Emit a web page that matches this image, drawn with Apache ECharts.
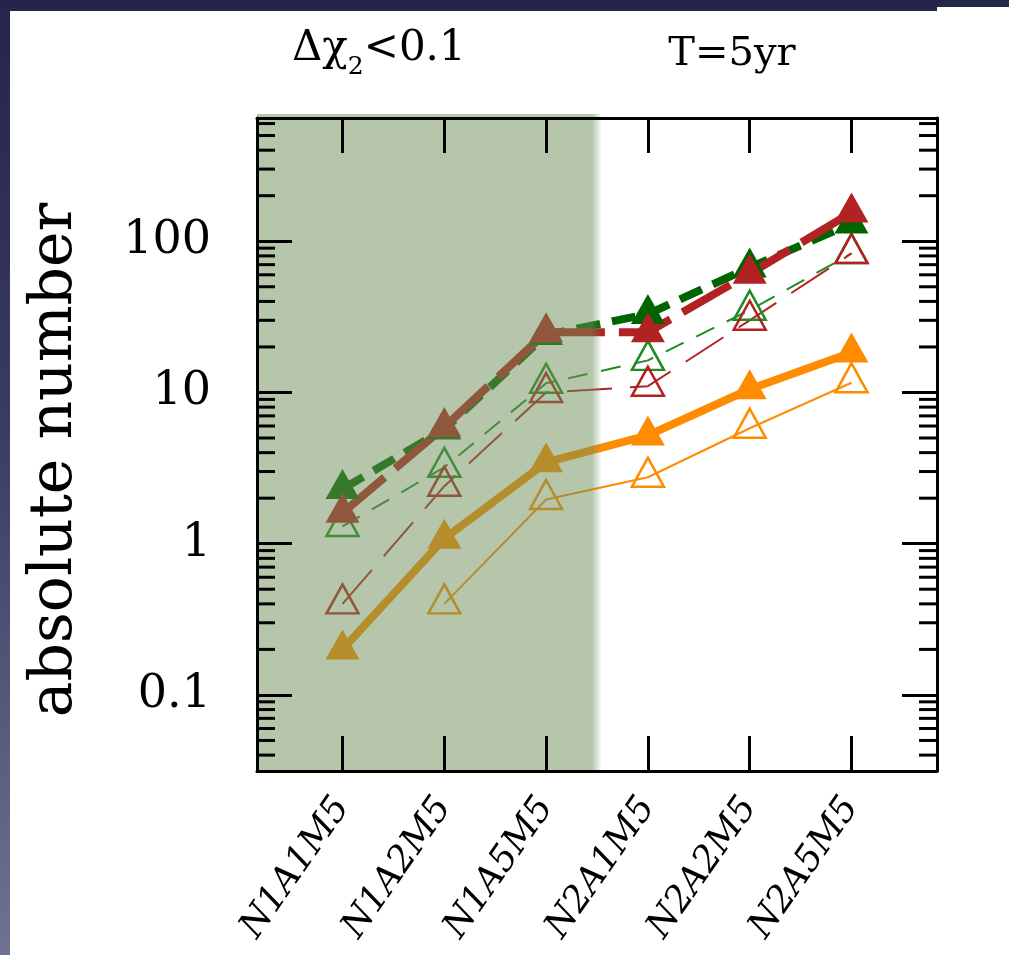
<!DOCTYPE html>
<html>
<head>
<meta charset="utf-8">
<script src="https://cdn.jsdelivr.net/npm/echarts@6/dist/echarts.min.js"></script>
<style>
  html, body { margin: 0; padding: 0; width: 1009px; height: 955px; overflow: hidden;
    background: linear-gradient(to bottom, #25244a 0%, #3b3c62 45%, #6f7290 100%); }
  #panel { position: absolute; left: 10px; top: 11px; width: 999px; height: 944px; background: #fff; }
  #tab { position: absolute; left: 937px; top: 7px; width: 72px; height: 10px; background: #fff; }
  #chart { position: absolute; left: 0; top: 0; width: 1009px; height: 955px; }
</style>
</head>
<body>
<div id="panel"></div>
<div id="tab"></div>
<div id="chart"></div>
<script>
// Configurations along the x axis
const categories = ['N1A1M5', 'N1A2M5', 'N1A5M5', 'N2A1M5', 'N2A2M5', 'N2A5M5'];

// Absolute numbers per configuration
const greenFilled  = [2.3, 5.7, 24, 33, 67, 131];
const redFilled    = [1.6, 5.9, 25, 25, 61, 155];
const greenOpen    = [1.3, 3.2, 11.5, 16.3, 35, 83];
const redOpen      = [0.4, 2.4, 10, 11, 30, 83];
const orangeFilled = [0.2, 1.08, 3.45, 5.2, 10.5, 18.4];
const orangeOpen   = [null, 0.4, 1.96, 2.75, 5.8, 11.6];

// Log axis labels
const yTickValues = [0.1, 1, 10, 100];
const yTickLabels = ['0.1', '1', '10', '100'];

// Header texts
const rightHeader = 'T=5yr';
const yAxisTitle = 'absolute number';

const X_MIN = -0.84, X_MAX = 5.84;
const Y_MIN = 0.0314, Y_MAX = 653;
const SHADE_END = 2.5;   // shaded block covers the N1 configurations

const SERIF = '"DejaVu Serif", "Liberation Serif", serif';
const SHADE = 'rgba(108,142,86,0.5)';
const SHADE_CLEAR = 'rgba(108,142,86,0)';

// minor ticks 2..9 of every decade inside the axis range
const minorTicks = [];
for (let e = -2; e <= 2; e++) {
  for (let m = 2; m <= 9; m++) {
    const v = m * Math.pow(10, e);
    if (v > Y_MIN && v < Y_MAX) minorTicks.push(v);
  }
}

function toPairs(values) {
  return values.map((v, i) => [i, v]).filter(d => d[1] != null);
}

function lineSeries(values, color, width, dash, filled, z) {
  return {
    type: 'line',
    data: toPairs(values),
    xAxisIndex: 0, yAxisIndex: 0,
    symbol: 'triangle',
    symbolSize: filled ? [34, 30] : [32, 29],
    symbolOffset: [0, -5],
    showAllSymbol: true,
    lineStyle: { color: color, width: width, type: dash, cap: 'butt' },
    itemStyle: filled
      ? { color: color }
      : { color: 'rgba(0,0,0,0)', borderColor: color, borderWidth: 2.5 },
    z: z, silent: true, animation: false
  };
}

function yLabel(v) {
  const i = yTickValues.findIndex(t => Math.abs(Math.log10(v / t)) < 1e-6);
  return i >= 0 ? yTickLabels[i] : '';
}

const chart = echarts.init(document.getElementById('chart'), null, { renderer: 'canvas' });

const frameLine = { show: true, onZero: false, lineStyle: { color: '#000', width: 3 } };
const majorTick = (values) => ({ show: true, inside: true, length: 35,
  lineStyle: { color: '#000', width: 3 }, customValues: values });

const option = {
  backgroundColor: 'transparent',
  animation: false,
  grid: { left: 257, right: 72, top: 118, bottom: 184 },
  xAxis: [
    {
      type: 'value', position: 'bottom', min: X_MIN, max: X_MAX, z: 20,
      axisLine: frameLine,
      axisTick: majorTick([0, 1, 2, 3, 4, 5]),
      axisLabel: { show: true, customValues: [0, 1, 2, 3, 4, 5], rotate: 55, margin: 30,
                   formatter: v => categories[Math.round(v)] || '',
                   color: '#000', fontFamily: SERIF, fontStyle: 'italic', fontSize: 36 },
      splitLine: { show: false }
    },
    {
      type: 'value', position: 'top', min: X_MIN, max: X_MAX, z: 20,
      axisLine: frameLine,
      axisTick: majorTick([0, 1, 2, 3, 4, 5]),
      axisLabel: { show: false },
      splitLine: { show: false }
    }
  ],
  yAxis: [
    {
      type: 'log', position: 'left', min: Y_MIN, max: Y_MAX, z: 20,
      axisLine: frameLine,
      axisTick: majorTick(yTickValues),
      axisLabel: { show: true, customValues: yTickValues, formatter: yLabel, margin: 46,
                   color: '#000', fontFamily: SERIF, fontSize: 46 },
      splitLine: { show: false }
    },
    {
      type: 'log', position: 'right', min: Y_MIN, max: Y_MAX, z: 20,
      axisLine: frameLine,
      axisTick: majorTick(yTickValues),
      axisLabel: { show: false },
      splitLine: { show: false }
    }
  ],
  graphic: [
    {
      type: 'text', left: 292, top: 28, silent: true,
      style: {
        text: '{a|Δχ}{s|2}{a|<0.1}',
        rich: {
          a: { fontFamily: SERIF, fontSize: 42, fill: '#000' },
          s: { fontFamily: SERIF, fontSize: 25, fill: '#000', padding: [36, 0, 0, 0] }
        }
      }
    },
    {
      type: 'text', x: 732, y: 55, silent: true,
      style: { text: rightHeader, fontFamily: SERIF, fontSize: 40, fill: '#000',
               align: 'center', verticalAlign: 'middle' }
    },
    {
      type: 'text', x: 55, y: 460, rotation: Math.PI / 2, silent: true,
      style: { text: yAxisTitle, fontFamily: SERIF, fontSize: 60, fill: '#000',
               align: 'center', verticalAlign: 'middle' }
    }
  ],
  series: [
    lineSeries(greenOpen,    '#228b22', 2, [20, 14], false, 3),
    lineSeries(redOpen,      '#b22222', 2, [45, 18], false, 3),
    lineSeries(orangeOpen,   '#ff8c00', 2, 'solid',  false, 3),
    lineSeries(greenFilled,  '#006400', 8, [24, 12], true, 4),
    lineSeries(redFilled,    '#b22222', 8, [55, 14], true, 4),
    lineSeries(orangeFilled, '#ff8c00', 8, 'solid',  true, 4),
    {
      // translucent block over the N1 configurations, with a soft right edge
      type: 'custom', z: 10, silent: true, animation: false,
      xAxisIndex: 0, yAxisIndex: 0,
      data: [[SHADE_END, Y_MIN]],
      encode: { x: 0, y: 1 },
      renderItem: (params, api) => {
        const cs = params.coordSys;
        const right = api.coord([api.value(0), api.value(1)])[0];
        const soft = 5;
        return {
          type: 'group',
          children: [
            { type: 'rect',
              shape: { x: cs.x, y: cs.y - 4, width: right - soft - cs.x, height: cs.height + 4 },
              style: { fill: SHADE } },
            { type: 'rect',
              shape: { x: right - soft, y: cs.y - 4, width: soft * 2, height: cs.height + 4 },
              style: { fill: new echarts.graphic.LinearGradient(0, 0, 1, 0, [
                { offset: 0, color: SHADE }, { offset: 1, color: SHADE_CLEAR }]) } }
          ]
        };
      }
    },
    {
      // minor log ticks on both vertical frame edges
      type: 'custom', z: 21, silent: true, animation: false,
      xAxisIndex: 0, yAxisIndex: 0,
      data: minorTicks.map(v => [0, v]),
      encode: { x: 0, y: 1 },
      renderItem: (params, api) => {
        const cs = params.coordSys;
        const y = api.coord([api.value(0), api.value(1)])[1];
        return {
          type: 'group',
          children: [
            { type: 'line', shape: { x1: cs.x, y1: y, x2: cs.x + 18, y2: y },
              style: { stroke: '#000', lineWidth: 3 } },
            { type: 'line', shape: { x1: cs.x + cs.width - 18, y1: y, x2: cs.x + cs.width, y2: y },
              style: { stroke: '#000', lineWidth: 3 } }
          ]
        };
      }
    }
  ]
};

chart.setOption(option);
</script>
</body>
</html>
